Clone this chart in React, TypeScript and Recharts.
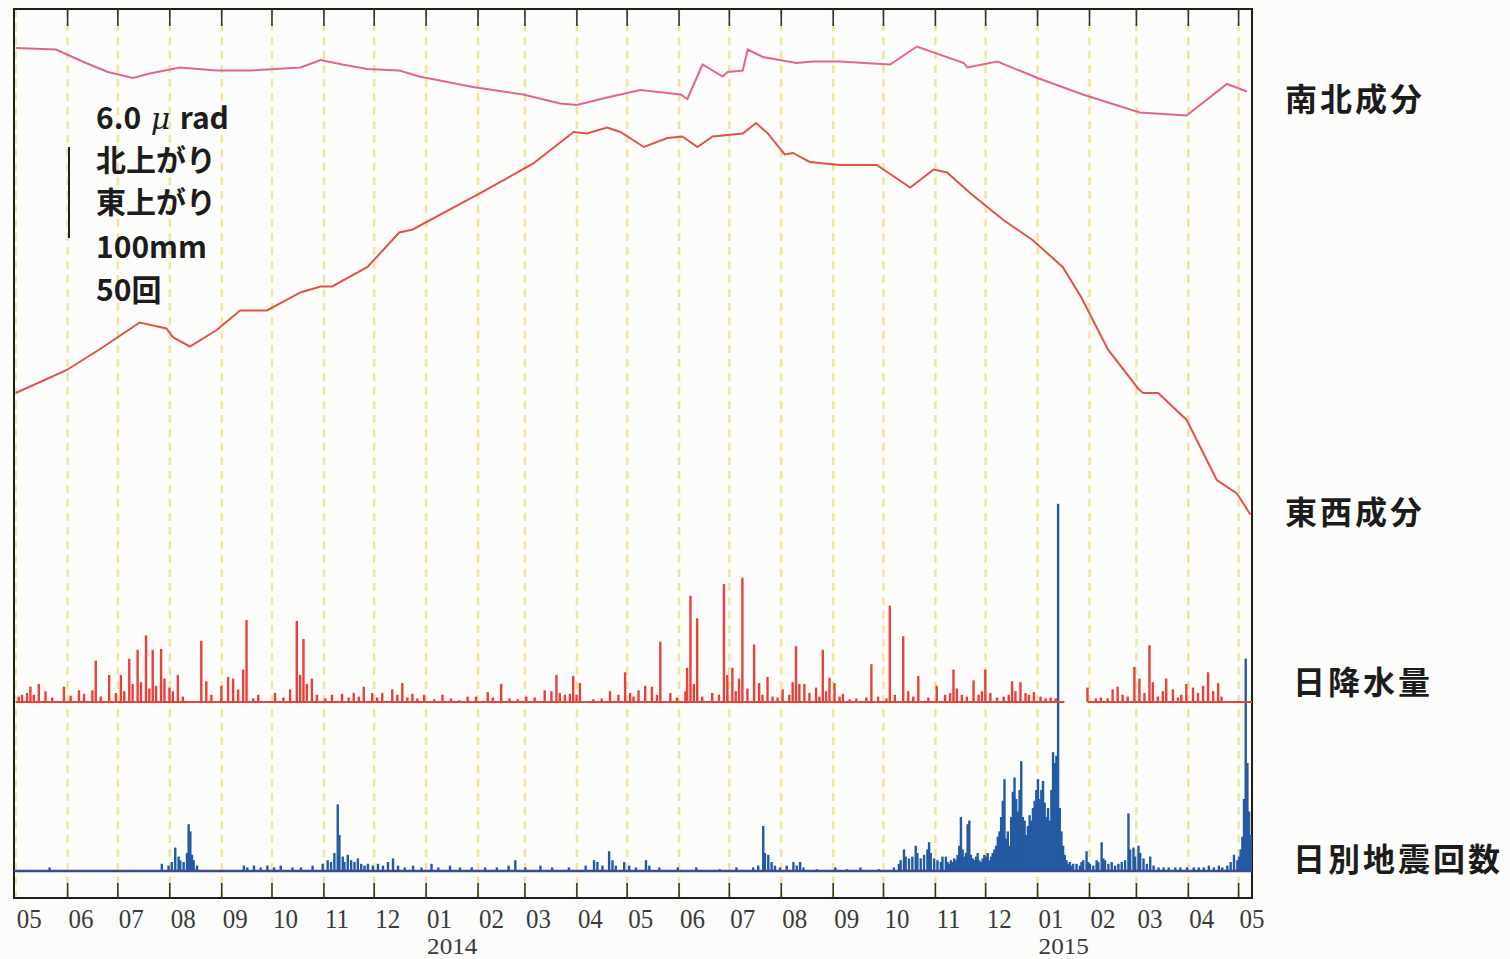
import {
  ComposedChart,
  Line,
  Bar,
  XAxis,
  YAxis,
  CartesianGrid,
  ReferenceLine,
  ReferenceArea,
} from "recharts";

// month starts shown on the time axis (first tick = chart origin)
const monthStarts = [
  "2013-05-01", "2013-06-01", "2013-07-01", "2013-08-01", "2013-09-01",
  "2013-10-01", "2013-11-01", "2013-12-01", "2014-01-01", "2014-02-01",
  "2014-03-01", "2014-04-01", "2014-05-01", "2014-06-01", "2014-07-01",
  "2014-08-01", "2014-09-01", "2014-10-01", "2014-11-01", "2014-12-01",
  "2015-01-01", "2015-02-01", "2015-03-01", "2015-04-01", "2015-05-01",
];

// tilt change from start, [day, μrad]
const nsTilt: [number, number][] = [
  [0, 0], [24, -0.1], [42, -1.0], [55, -1.6], [70, -2.0], [80, -1.7], [98, -1.3],
  [120, -1.5], [140, -1.5], [170, -1.3], [182, -0.8], [195, -1.1], [210, -1.4],
  [229, -1.5], [241, -1.9], [273, -2.6], [303, -3.1], [325, -3.7], [335, -3.8],
  [353, -3.3], [373, -2.8], [397, -3.1], [401, -3.4], [410, -1.1], [422, -1.9],
  [425, -1.6], [434, -1.5], [437, -0.1], [446, -0.6], [466, -1.0], [476, -0.9],
  [492, -0.9], [522, -1.1], [538, 0.1], [566, -1.0], [568, -1.3], [586, -0.9],
  [610, -2.0], [637, -3.1], [671, -4.3], [699, -4.5], [723, -2.4], [735, -2.9],
];

const ewTilt: [number, number][] = [
  [0, 0], [30, 1.5], [50, 2.9], [74, 4.7], [90, 4.3], [94, 3.7], [104, 3.1],
  [120, 4.2], [134, 5.5], [150, 5.5], [170, 6.7], [182, 7.1], [189, 7.1],
  [210, 8.4], [229, 10.7], [237, 10.9], [277, 13.3], [309, 15.3], [333, 17.4],
  [341, 17.3], [353, 17.7], [361, 17.4], [375, 16.4], [389, 17.0], [398, 17.1],
  [407, 16.4], [416, 17.1], [434, 17.3], [442, 18.0], [449, 17.3], [459, 15.9],
  [464, 16.0], [474, 15.4], [492, 15.2], [514, 15.2], [534, 13.7], [548, 14.9],
  [556, 14.7], [570, 13.3], [590, 11.5], [607, 10.2], [625, 8.4], [636, 6.4],
  [652, 2.9], [670, 0.3], [673, 0], [682, 0], [699, -1.8], [717, -5.8],
  [729, -6.7], [737, -8.1],
];

// daily rainfall, [day, mm]
const rainfall: [number, number][] = [
  [2, 6], [4, 8], [7, 10], [9, 17], [11, 8], [14, 20], [18, 12], [22, 5], [29, 17],
  [33, 7], [38, 13], [41, 9], [46, 13], [48, 46], [51, 6], [56, 30], [60, 10],
  [63, 30], [65, 12], [68, 48], [70, 20], [73, 58], [75, 22], [78, 74], [80, 15],
  [82, 58], [84, 18], [87, 59], [89, 26], [92, 16], [94, 12], [97, 30], [100, 6],
  [111, 68], [114, 23], [117, 8], [123, 18], [127, 28], [130, 26], [133, 14],
  [136, 36], [138, 91], [142, 4], [145, 8], [155, 10], [160, 5], [164, 14],
  [168, 90], [170, 30], [172, 70], [174, 20], [177, 26], [180, 8], [185, 4],
  [189, 8], [195, 9], [199, 5], [202, 10], [205, 6], [208, 17], [213, 10],
  [216, 5], [219, 10], [225, 14], [228, 8], [231, 21], [234, 5], [237, 9],
  [240, 4], [244, 8], [250, 3], [255, 8], [260, 4], [265, 2], [270, 6], [275, 6],
  [282, 11], [285, 5], [290, 20], [295, 4], [300, 3], [305, 6], [310, 5],
  [316, 13], [320, 12], [323, 30], [325, 10], [328, 8], [331, 9], [333, 29],
  [335, 8], [337, 21], [345, 3], [350, 4], [355, 12], [360, 8], [364, 33],
  [367, 10], [369, 6], [372, 13], [376, 18], [380, 17], [383, 8], [385, 67],
  [391, 10], [395, 5], [400, 12], [401, 38], [403, 118], [405, 20], [407, 93],
  [410, 6], [416, 10], [420, 8], [423, 131], [425, 30], [428, 38], [430, 12],
  [432, 26], [434, 138], [437, 15], [441, 64], [444, 21], [446, 8], [449, 28],
  [452, 6], [455, 5], [458, 14], [462, 8], [464, 22], [466, 62], [468, 20],
  [471, 20], [474, 10], [478, 16], [480, 6], [482, 58], [484, 12], [486, 27],
  [489, 21], [492, 6], [494, 9], [498, 3], [502, 4], [508, 5], [511, 42],
  [515, 6], [520, 4], [522, 107], [525, 8], [530, 73], [533, 12], [536, 6],
  [539, 29], [545, 5], [550, 18], [555, 8], [558, 10], [560, 36], [562, 15],
  [565, 8], [568, 6], [572, 24], [575, 8], [577, 12], [579, 36], [582, 10],
  [586, 5], [590, 6], [593, 8], [595, 23], [597, 12], [600, 22], [603, 10],
  [605, 8], [608, 11], [612, 6], [615, 4], [618, 5], [621, 4], [640, 16],
  [645, 4], [648, 5], [652, 4], [655, 14], [658, 17], [661, 8], [664, 6],
  [668, 39], [671, 26], [674, 10], [677, 63], [679, 22], [682, 6], [685, 12],
  [687, 26], [691, 14], [694, 5], [696, 8], [699, 20], [703, 16], [706, 10],
  [709, 18], [712, 33], [715, 12], [718, 21], [720, 6],
];
// days with no rainfall record
const rainGap: [number, number] = [626, 640];

// daily earthquake count, [day, count]
const quakes: [number, number][] = [
  [20, 2], [87, 4], [91, 3], [93, 5], [95, 13], [97, 8], [98, 6], [100, 5],
  [102, 10], [103, 26], [104, 22], [105, 9], [106, 6], [108, 3], [136, 3],
  [138, 2], [142, 3], [146, 2], [150, 3], [154, 2], [158, 3], [165, 2], [170, 2],
  [177, 3], [183, 4], [186, 6], [188, 5], [190, 10], [192, 37], [193, 20],
  [195, 8], [196, 5], [198, 9], [200, 6], [202, 5], [204, 7], [206, 4], [208, 3],
  [210, 4], [213, 3], [216, 4], [219, 3], [222, 5], [225, 7], [228, 3], [232, 2],
  [237, 3], [242, 2], [248, 4], [252, 2], [259, 3], [265, 2], [272, 2], [280, 2],
  [287, 2], [294, 3], [298, 6], [304, 2], [313, 3], [320, 2], [330, 2], [340, 3],
  [345, 6], [347, 5], [350, 3], [354, 11], [356, 6], [358, 3], [363, 5], [366, 3],
  [370, 2], [376, 6], [378, 3], [384, 2], [395, 2], [406, 2], [420, 1], [430, 2],
  [440, 2], [443, 3], [446, 25], [447, 10], [449, 9], [451, 5], [453, 3],
  [456, 2], [460, 3], [464, 5], [466, 3], [468, 5], [470, 2], [478, 1], [489, 2],
  [496, 1], [504, 2], [515, 1], [524, 2], [527, 4], [528, 6], [530, 12], [531, 8],
  [533, 7], [535, 8], [537, 14], [538, 10], [540, 7], [542, 9], [544, 12],
  [545, 16], [546, 10], [548, 7], [550, 6], [552, 5], [553, 8], [555, 8],
  [556, 5], [557, 4], [558, 6], [559, 5], [560, 7], [561, 6], [562, 9], [563, 14],
  [564, 30], [565, 12], [566, 8], [567, 10], [568, 26], [569, 28], [570, 9],
  [571, 7], [572, 6], [573, 8], [574, 10], [575, 6], [576, 5], [577, 7], [578, 9],
  [579, 8], [580, 10], [581, 6], [582, 8], [583, 10], [584, 12], [585, 14],
  [586, 19], [587, 22], [588, 30], [589, 39], [590, 51], [591, 18], [592, 22],
  [593, 14], [594, 30], [595, 44], [596, 52], [597, 40], [598, 33], [599, 45],
  [600, 61], [601, 30], [602, 28], [603, 20], [604, 25], [605, 31], [606, 28],
  [607, 35], [608, 39], [609, 45], [610, 51], [611, 40], [612, 45], [613, 50],
  [614, 38], [615, 30], [616, 35], [617, 28], [618, 45], [619, 66], [620, 60],
  [621, 64], [622, 204], [623, 35], [624, 22], [625, 14], [626, 9], [627, 6],
  [628, 4], [629, 5], [630, 3], [631, 4], [633, 4], [635, 3], [636, 5], [637, 6],
  [639, 11], [640, 5], [641, 4], [643, 3], [645, 6], [646, 5], [648, 16],
  [649, 7], [650, 6], [652, 4], [654, 5], [656, 3], [658, 4], [660, 5], [662, 6],
  [664, 32], [665, 12], [667, 13], [668, 8], [670, 14], [671, 10], [673, 7],
  [675, 4], [677, 8], [679, 3], [682, 2], [685, 2], [688, 2], [692, 2], [695, 2],
  [699, 2], [703, 2], [706, 2], [709, 2], [712, 3], [715, 2], [718, 3], [720, 2],
  [723, 3], [725, 5], [727, 9], [729, 6], [730, 8], [731, 12], [732, 19],
  [733, 40], [734, 118], [735, 60], [736, 33], [737, 20],
];

const seriesLabels = ["南北成分", "東西成分", "日降水量", "日別地震回数"];
const scaleLabels = ["北上がり", "東上がり", "100mm", "50回"];

const dayOf = (iso: string) =>
  Math.round((Date.parse(iso) - Date.parse(monthStarts[0])) / 86400000);
const monthTicks = monthStarts.map(dayOf);

// build one table keyed by day
const rows = new Map<number, any>();
const put = (list: [number, number][], key: string) =>
  list.forEach(([d, v]) => {
    const r = rows.get(d) ?? { day: d };
    r[key] = v;
    rows.set(d, r);
  });
put(nsTilt, "ns");
put(ewTilt, "ew");
put(rainfall, "rain");
put(quakes, "quake");
const data = [...rows.values()].sort((a, b) => a.day - b.day);

const PLOT_TOP = 9;
const PLOT_BOTTOM = 898;
const X_DOMAIN: [number, number] = [-1, 738];
const EW_DOMAIN: [number, number] = [-33.67, 25.6];
const NS_DOMAIN: [number, number] = [-56.67, 2.6];
const RAIN_DOMAIN: [number, number] = [-217.8, 770];
const QUAKE_DOMAIN: [number, number] = [-15, 478.9];

function MonthTick(props: any) {
  const { x, payload } = props;
  const i = monthTicks.indexOf(payload.value);
  const [yy, mm] = monthStarts[i].split("-");
  const serif = "'Liberation Serif', serif";
  return (
    <g>
      {i > 0 && (
        <>
          <line x1={x} x2={x} y1={PLOT_TOP} y2={PLOT_TOP + 17} stroke="#333" strokeWidth={1.6} />
          <line x1={x} x2={x} y1={PLOT_BOTTOM - 15} y2={PLOT_BOTTOM} stroke="#333" strokeWidth={1.6} />
        </>
      )}
      <text
        transform={`translate(${x + 1},928) scale(1,1.12)`}
        style={{ fontFamily: serif, fontSize: 25, fill: "#3a3a3a" }}
      >
        {mm}
      </text>
      {mm === "01" && (
        <text
          transform={`translate(${x + 1},954) scale(1.2,1.05)`}
          style={{ fontFamily: serif, fontSize: 21, fill: "#3a3a3a" }}
        >
          {yy}
        </text>
      )}
    </g>
  );
}

// widen the daily bars a little so adjacent days merge like the printed chart
function DayBar(props: any) {
  const { x, y, width, height, fill } = props;
  if (!height) return null;
  const top = Math.min(y, y + height);
  return <rect x={x - 0.7} y={top} width={Math.max(width, 1) + 1.4} height={Math.abs(height)} fill={fill} />;
}

const labelStyle = {
  position: "absolute" as const,
  fontFamily: "'Noto Sans CJK JP', sans-serif",
  fontWeight: 700,
  fontSize: 32,
  letterSpacing: 3,
  lineHeight: "32px",
  color: "#1c1c1c",
  whiteSpace: "nowrap" as const,
};

const scaleStyle = {
  position: "absolute" as const,
  left: 96,
  fontFamily: "'Noto Sans CJK JP', sans-serif",
  fontWeight: 700,
  fontSize: 30,
  lineHeight: "30px",
  color: "#1c1c1c",
  whiteSpace: "nowrap" as const,
};

export default function App() {
  return (
    <div
      style={{
        position: "absolute",
        left: 0,
        top: 0,
        width: 1510,
        height: 959,
        background: "#fcfcfa",
        overflow: "hidden",
      }}
    >
      <ComposedChart
        width={1510}
        height={959}
        data={data}
        margin={{ top: PLOT_TOP, right: 258, bottom: 0, left: 14 }}
      >
        <XAxis
          dataKey="day"
          type="number"
          domain={X_DOMAIN}
          allowDataOverflow
          ticks={monthTicks}
          interval={0}
          tick={<MonthTick />}
          tickLine={false}
          axisLine={false}
          height={959 - PLOT_BOTTOM}
        />
        <YAxis yAxisId="ew" domain={EW_DOMAIN} allowDataOverflow hide />
        <YAxis yAxisId="ns" domain={NS_DOMAIN} allowDataOverflow hide />
        <YAxis yAxisId="rain" domain={RAIN_DOMAIN} allowDataOverflow hide />
        <YAxis yAxisId="quake" domain={QUAKE_DOMAIN} allowDataOverflow hide />
        <CartesianGrid
          yAxisId="ew"
          horizontal={false}
          stroke="#f0e4a0"
          strokeWidth={2.5}
          strokeDasharray="8 6"
        />
        <ReferenceLine
          yAxisId="rain"
          segment={[{ x: 0, y: 0 }, { x: rainGap[0], y: 0 }]}
          stroke="#e8413b"
          strokeWidth={2}
        />
        <ReferenceLine
          yAxisId="rain"
          segment={[{ x: rainGap[1], y: 0 }, { x: X_DOMAIN[1], y: 0 }]}
          stroke="#e8413b"
          strokeWidth={2}
        />
        <ReferenceLine yAxisId="quake" y={0} stroke="#3d4a8f" strokeWidth={2.5} />
        <Bar
          yAxisId="rain"
          dataKey="rain"
          fill="#e8413b"
          barSize={2}
          shape={<DayBar />}
          isAnimationActive={false}
        />
        <Bar
          yAxisId="quake"
          dataKey="quake"
          fill="#245aa2"
          barSize={2}
          shape={<DayBar />}
          isAnimationActive={false}
        />
        <Line
          yAxisId="ns"
          dataKey="ns"
          type="linear"
          stroke="#e2658f"
          strokeWidth={2}
          dot={false}
          connectNulls
          isAnimationActive={false}
        />
        <Line
          yAxisId="ew"
          dataKey="ew"
          type="linear"
          stroke="#e0524a"
          strokeWidth={2}
          dot={false}
          connectNulls
          isAnimationActive={false}
        />
        <ReferenceArea
          yAxisId="ew"
          x1={X_DOMAIN[0]}
          x2={X_DOMAIN[1]}
          y1={EW_DOMAIN[0]}
          y2={EW_DOMAIN[1]}
          fill="none"
          stroke="#1e1e1e"
          strokeWidth={2}
        />
      </ComposedChart>

      {/* scale bar and legend of units */}
      <div
        style={{
          position: "absolute",
          left: 68,
          top: 147,
          width: 2,
          height: 91,
          background: "#222",
        }}
      />
      <div style={{ ...scaleStyle, top: 101 }}>
        6.0
        <span style={{ fontFamily: "'DejaVu Serif', serif", fontStyle: "italic", fontWeight: 400 }}>
          {" μ "}
        </span>
        rad
      </div>
      {scaleLabels.map((t, i) => (
        <div key={t} style={{ ...scaleStyle, top: 143 + [0, 42, 87, 130][i] }}>
          {t}
        </div>
      ))}

      {seriesLabels.map((t, i) => (
        <div
          key={t}
          style={{
            ...labelStyle,
            left: i < 2 ? 1285 : 1293,
            top: [81, 494, 664, 841][i],
          }}
        >
          {t}
        </div>
      ))}
    </div>
  );
}
